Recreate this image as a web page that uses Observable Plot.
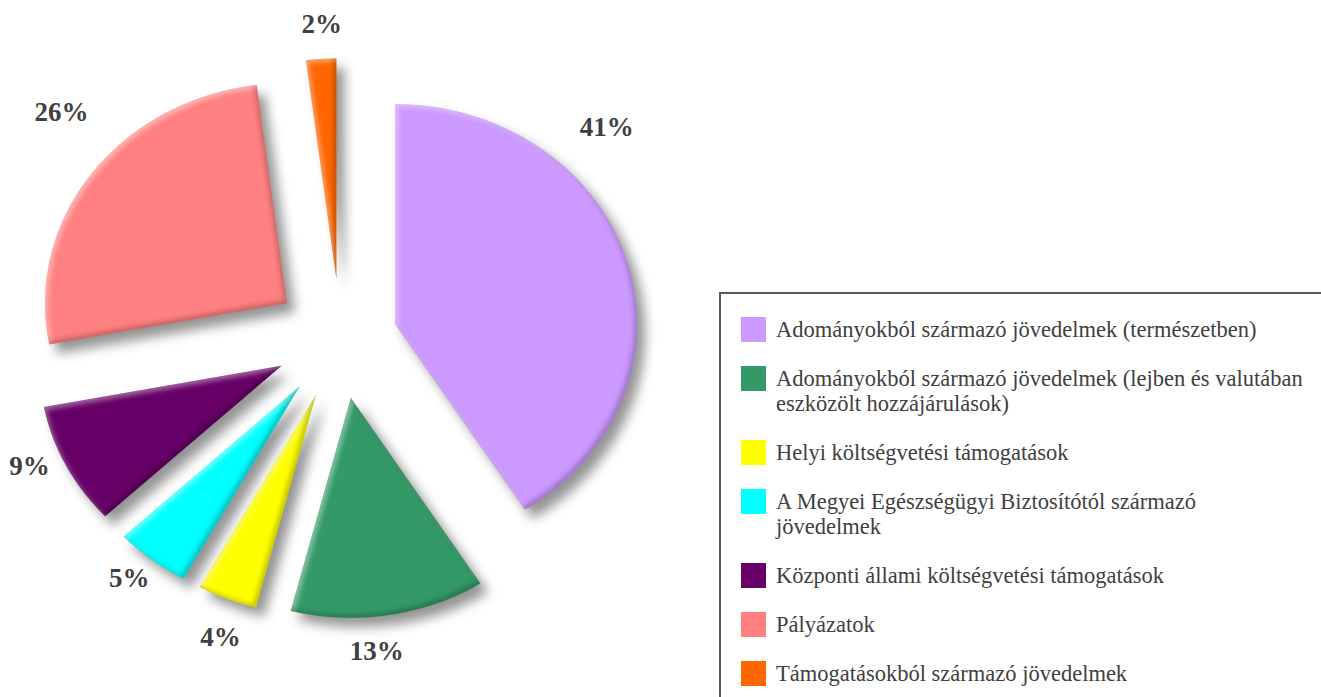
<!DOCTYPE html>
<html><head><meta charset="utf-8">
<script src="https://cdn.jsdelivr.net/npm/d3@7"></script>
<script src="https://cdn.jsdelivr.net/npm/@observablehq/plot@0.6"></script>
<style>
body{margin:0;background:#fff;}
#wrap{position:relative;width:1321px;height:697px;overflow:hidden;background:#fff;}
#chart{position:absolute;left:0;top:0;}
#legend{position:absolute;left:719px;top:292px;width:660px;height:460px;border:2px solid #595959;box-sizing:border-box;font-family:"Liberation Serif","Times New Roman",serif;font-size:22.5px;color:#404040;background:#fff;}
.item{position:absolute;left:20px;display:flex;align-items:flex-start;}
.sw{width:25px;height:25px;margin-right:10px;flex:none;}
.tx{line-height:25px;white-space:pre;}
</style></head><body>
<div id="wrap"><div id="chart"></div><div id="legend"></div></div>
<script>
// ---- data ----
const categories = [
  "Adományokból származó jövedelmek (természetben)",
  "Adományokból származó jövedelmek (lejben és valutában\neszközölt hozzájárulások)",
  "Helyi költségvetési támogatások",
  "A Megyei Egészségügyi Biztosítótól származó\njövedelmek",
  "Központi állami költségvetési támogatások",
  "Pályázatok",
  "Támogatásokból származó jövedelmek"
];
const values = [41, 13, 4, 5, 9, 26, 2];
const valueLabels = ["41%", "13%", "4%", "5%", "9%", "26%", "2%"];
const colors = ["#CC99FF", "#339966", "#FFFF00", "#00FFFF", "#660066", "#FF8080", "#FF6600"];

// ---- layout / style ----
const W = 1321, H = 697, CX = 340, CY = 338, RX = 242, RY = 220;
const explode = [0.235, 0.273, 0.273, 0.273, 0.273, 0.273, 0.273];
const labelShift = [-29.4, 3.7, -1.9, 1.1, 3.3, 6.9, 0.6];
const labelRadius = [1.25, 1.158, 1.174, 1.124, 1.138, 1.272, 1.157];

const total = d3.sum(values);
const rad = Math.PI / 180;
let acc = 0;
const slices = values.map((v, i) => {
  const a0 = acc / total * 360; acc += v; const a1 = acc / total * 360;
  return {i, a0, a1, mid: (a0 + a1) / 2};
});
const pts = [];
const labs = [];
slices.forEach(s => {
  const ox = explode[s.i] * Math.sin(s.mid * rad), oy = explode[s.i] * Math.cos(s.mid * rad);
  const name = categories[s.i];
  pts.push({name, x: ox, y: oy});
  const n = Math.max(4, Math.ceil((s.a1 - s.a0) / 0.5));
  for (let k = 0; k <= n; k++) {
    const t = (s.a0 + (s.a1 - s.a0) * k / n) * rad;
    pts.push({name, x: ox + Math.sin(t), y: oy + Math.cos(t)});
  }
  const la = (s.mid + labelShift[s.i]) * rad;
  labs.push({text: valueLabels[s.i], x: ox + labelRadius[s.i] * Math.sin(la), y: oy + labelRadius[s.i] * Math.cos(la)});
});

const plot = Plot.plot({
  width: W, height: H, margin: 0,
  x: {domain: [-CX / RX, (W - CX) / RX], axis: null},
  y: {domain: [-(H - CY) / RY, CY / RY], axis: null},
  color: {domain: categories, range: colors},
  style: {background: "transparent"},
  marks: [
    Plot.line(pts, {x: "x", y: "y", z: "name", fill: "name", stroke: "none", curve: "linear"}),
    Plot.text(labs, {x: "x", y: "y", text: "text", fontSize: 27, fontWeight: "bold", fill: "#404040", fontFamily: "'Liberation Serif','Times New Roman',serif"})
  ]
});
document.getElementById("chart").appendChild(plot);

// bevel + drop shadow filter
const ns = "http://www.w3.org/2000/svg";
const defs = document.createElementNS(ns, "defs");
defs.innerHTML = `
<filter id="fx" filterUnits="userSpaceOnUse" x="0" y="0" width="${W}" height="${H}" color-interpolation-filters="sRGB">
  <feGaussianBlur in="SourceAlpha" stdDeviation="6" result="ds0"/>
  <feOffset in="ds0" dx="8" dy="9" result="ds1"/>
  <feFlood flood-color="#000" flood-opacity="0.42"/>
  <feComposite in2="ds1" operator="in" result="ds"/>
  <feGaussianBlur in="SourceAlpha" stdDeviation="2.5" result="b"/>
  <feOffset in="b" dx="3" dy="3" result="bo1"/>
  <feComposite in="SourceAlpha" in2="bo1" operator="out" result="hlm"/>
  <feFlood flood-color="#fff" flood-opacity="0.4"/>
  <feComposite in2="hlm" operator="in" result="hl"/>
  <feOffset in="b" dx="-3" dy="-3" result="bo2"/>
  <feComposite in="SourceAlpha" in2="bo2" operator="out" result="shm"/>
  <feFlood flood-color="#000" flood-opacity="0.22"/>
  <feComposite in2="shm" operator="in" result="sh"/>
  <feMerge><feMergeNode in="ds"/><feMergeNode in="SourceGraphic"/><feMergeNode in="hl"/><feMergeNode in="sh"/></feMerge>
</filter>`;
plot.insertBefore(defs, plot.firstChild);
plot.querySelectorAll('g[aria-label="line"] path').forEach(p => p.setAttribute("filter", "url(#fx)"));

// legend
const leg = document.getElementById("legend");
let yPos = 22.5;
categories.forEach((c, i) => {
  const it = document.createElement("div");
  it.className = "item"; it.style.top = yPos + "px";
  const sw = document.createElement("div"); sw.className = "sw"; sw.style.background = colors[i];
  const tx = document.createElement("div"); tx.className = "tx"; tx.textContent = c;
  it.appendChild(sw); it.appendChild(tx); leg.appendChild(it);
  yPos += c.split("\n").length * 25 + 24;
});
</script>
</body></html>
